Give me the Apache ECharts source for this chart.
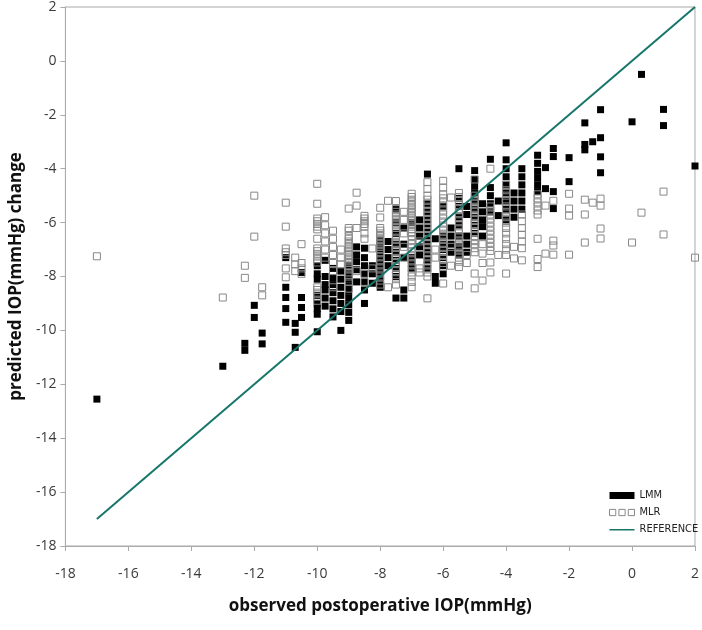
<!DOCTYPE html>
<html>
<head>
<meta charset="utf-8">
<script src="https://cdn.jsdelivr.net/npm/echarts@6/dist/echarts.min.js"></script>
<style>html,body{margin:0;padding:0;background:#fff;}#c{width:702px;height:630px;}</style>
</head>
<body>
<div id="c"></div>
<script>
// observed x -> list of predicted values, per column
const lmmCols = [
  [-17, [-12.55]],
  [-13, [-11.33]],
  [-12.3, [-10.48, -10.74]],
  [-12, [-9.07, -9.52]],
  [-11.75, [-10.1, -10.5]],
  [-11, [-7.3, -8.4, -8.78, -9.19, -9.7]],
  [-10.7, [-9.74, -10.07, -10.63]],
  [-10.5, [-7.85, -8.78, -9.15, -9.52]],
  [-10, [-7.6, -7.9, -8.1, -8.7, -9.0, -9.2, -9.4, -10.05]],
  [-9.75, [-7.4, -8.0, -8.3, -8.5, -8.8, -9.1]],
  [-9.5, [-7.7, -8.05, -8.3, -8.6, -8.9, -9.2, -9.5]],
  [-9.25, [-7.8, -8.1, -8.4, -8.7, -9.0, -9.3, -10.0]],
  [-9, [-7.6, -7.9, -8.1, -8.35, -8.55, -8.8, -9.05, -9.33, -9.63]],
  [-8.75, [-6.9, -7.2, -7.45, -7.75, -8.2]],
  [-8.5, [-6.95, -7.3, -7.6, -7.9, -8.2, -8.5, -9.0]],
  [-8.25, [-7.6, -7.9, -8.25]],
  [-8, [-6.65, -6.9, -7.15, -7.4, -7.65, -7.9, -8.15, -8.4]],
  [-7.75, [-6.7, -7.0, -7.3, -7.6]],
  [-7.5, [-5.5, -6.0, -6.4, -6.8, -7.1, -7.4, -7.7, -8.0, -8.8]],
  [-7.25, [-6.2, -6.8, -7.3, -8.5, -8.8]],
  [-7, [-6.0, -7.3, -7.5, -7.7]],
  [-6.75, [-5.9, -6.2, -6.5, -6.9, -7.2]],
  [-6.5, [-4.2, -5.3, -5.6, -5.9, -6.2, -6.5, -6.8, -7.1, -7.4, -7.7]],
  [-6.25, [-6.6, -8.0, -8.25]],
  [-6, [-5.4, -6.5, -6.8, -7.0, -7.3, -7.6, -7.9]],
  [-5.75, [-6.2, -6.5, -6.8, -7.1]],
  [-5.5, [-4.0, -5.1, -5.4, -5.8, -6.1, -6.5, -6.9, -7.2]],
  [-5.25, [-5.4, -5.7, -6.5, -6.8, -7.1]],
  [-5, [-4.07, -4.4, -4.65, -4.9, -5.2, -5.5, -5.8, -6.1, -6.4]],
  [-4.75, [-5.3, -5.6, -5.9, -6.15, -6.5]],
  [-4.5, [-3.65, -4.7, -5.0, -5.3, -5.6]],
  [-4.25, [-5.2, -5.74]],
  [-4, [-3.04, -3.67, -4.0, -4.3, -4.6, -4.9, -5.2, -5.5, -5.9]],
  [-3.75, [-4.9, -5.2, -5.5, -5.8]],
  [-3.5, [-4.0, -4.3, -4.6, -4.9, -5.2, -5.5]],
  [-3, [-3.5, -3.8, -4.1, -4.35, -4.6, -4.85]],
  [-2.75, [-3.96, -4.74]],
  [-2.5, [-3.25, -3.55, -4.85, -5.48]],
  [-2, [-3.59, -4.48]],
  [-1.5, [-2.3, -3.1, -3.3]],
  [-1.25, [-3.0]],
  [-1, [-1.81, -2.85, -3.56, -4.15]],
  [0, [-2.26]],
  [0.3, [-0.5]],
  [1, [-1.8, -2.4]],
  [2, [-3.9]]
];
const mlrCols = [
  [-17, [-7.25]],
  [-13, [-8.78]],
  [-12.3, [-7.6, -8.05]],
  [-12, [-5.0, -6.52]],
  [-11.75, [-8.4, -8.7]],
  [-11, [-5.26, -6.15, -6.96, -7.1, -7.2, -7.7, -8.03]],
  [-10.7, [-7.3, -7.55, -7.8]],
  [-10.5, [-6.8, -7.5, -7.7, -7.9]],
  [-10, [-4.56, -5.3, -5.85, -5.95, -6.05, -6.15, -6.25, -6.6, -6.96, -7.06, -7.16, -7.26, -7.36, -7.48, -8.4, -8.5, -8.6, -8.75, -8.9]],
  [-9.75, [-5.8, -6.1, -6.4, -6.7, -7.0, -7.3]],
  [-9.5, [-6.3, -6.6, -6.9, -7.2, -7.5, -7.8, -8.4]],
  [-9.25, [-7.0, -7.3, -7.55]],
  [-9, [-5.48, -6.2, -6.3, -6.5, -6.6, -6.7, -6.8, -6.9, -7.0, -7.1, -7.2, -7.3, -7.4, -7.5, -7.6, -7.7, -7.85, -8.0, -8.2, -8.45]],
  [-8.75, [-4.89, -5.37, -6.2, -7.8]],
  [-8.5, [-5.75, -5.85, -5.95, -6.05, -6.15, -6.4, -6.6, -7.9, -8.2]],
  [-8.25, [-6.96, -7.7]],
  [-8, [-5.45, -5.81, -6.2, -6.3, -6.4, -6.5, -6.6, -6.7, -6.8, -6.9, -7.0, -7.1, -7.25, -7.4, -7.55, -7.7, -7.85, -8.0, -8.15, -8.3]],
  [-7.75, [-5.19, -8.4]],
  [-7.5, [-5.2, -5.5, -5.6, -5.7, -5.8, -5.9, -6.0, -6.1, -6.2, -6.3, -6.45, -6.6, -6.75, -6.9, -7.05, -7.2, -7.35, -7.5, -7.65, -7.8, -7.95, -8.1, -8.3]],
  [-7.25, [-5.6, -5.9, -6.4, -6.9, -7.3]],
  [-7, [-4.93, -5.05, -5.15, -5.25, -5.35, -5.45, -5.55, -5.65, -5.75, -5.85, -5.95, -6.05, -6.15, -6.25, -6.35, -6.5, -6.65, -6.8, -6.95, -7.1, -7.25, -7.4, -7.55, -7.7, -7.85, -8.0, -8.2, -8.4]],
  [-6.75, [-6.7, -7.7, -7.85]],
  [-6.5, [-4.5, -4.75, -5.0, -5.15, -5.3, -5.45, -5.6, -5.75, -5.9, -6.05, -6.2, -6.35, -6.5, -6.65, -6.8, -6.95, -7.1, -7.25, -7.4, -7.55, -7.7, -7.85, -8.0, -8.81]],
  [-6.25, [-7.0, -7.3]],
  [-6, [-4.45, -4.7, -4.95, -5.1, -5.25, -5.4, -5.55, -5.7, -5.85, -6.0, -6.15, -6.3, -6.45, -6.6, -6.75, -6.9, -7.05, -7.2, -7.35, -7.5, -7.65, -8.26]],
  [-5.75, [-5.07, -6.9, -7.6]],
  [-5.5, [-4.9, -5.05, -5.2, -5.35, -5.5, -5.65, -5.8, -5.95, -6.1, -6.25, -6.4, -6.55, -6.7, -6.85, -7.0, -7.15, -7.3, -7.45, -7.65, -8.33]],
  [-5.25, [-7.2, -7.5]],
  [-5, [-4.4, -5.0, -5.15, -5.3, -5.45, -5.6, -5.75, -5.9, -6.05, -6.2, -6.35, -6.5, -6.65, -6.8, -6.95, -7.1, -7.89, -8.44]],
  [-4.75, [-6.8, -7.15, -7.5, -8.15]],
  [-4.5, [-4.0, -5.4, -5.55, -5.7, -5.85, -6.0, -6.15, -6.3, -6.45, -6.6, -6.75, -6.9, -7.05, -7.48, -7.85]],
  [-4.25, [-7.2]],
  [-4, [-4.6, -4.8, -5.0, -5.2, -5.4, -5.6, -5.8, -6.0, -6.2, -6.4, -6.6, -6.8, -7.0, -7.2, -7.89]],
  [-3.75, [-6.9, -7.33]],
  [-3.5, [-5.7, -5.95, -6.2, -6.45, -6.7, -6.95, -7.4]],
  [-3, [-4.95, -5.1, -5.25, -5.4, -5.55, -5.7, -6.6, -7.35, -7.65]],
  [-2.75, [-5.37, -7.15]],
  [-2.5, [-5.19, -6.67, -6.85, -7.19]],
  [-2, [-4.93, -5.48, -5.74, -7.19]],
  [-1.5, [-5.15, -5.7, -6.74]],
  [-1.25, [-5.26]],
  [-1, [-5.11, -5.37, -6.22, -6.59]],
  [0, [-6.74]],
  [0.3, [-5.63]],
  [1, [-4.85, -6.44]],
  [2, [-7.3]]
];
const referenceLine = [[-17, -17], [2, 2]];
const axisMin = -18, axisMax = 2, axisStep = 2;

function toPoints(cols) {
  const out = [];
  cols.forEach(function (c) { c[1].forEach(function (v) { out.push([c[0], v]); }); });
  return out;
}

const teal = '#17766a';
const chart = echarts.init(document.getElementById('c'), null, {renderer: 'canvas'});
const tickFont = {fontFamily: 'Open Sans', fontSize: 14, color: '#3a3a3a'};
const nameFont = {fontFamily: 'Open Sans', fontSize: 17, fontWeight: 'bold', color: '#111'};
chart.setOption({
  backgroundColor: '#fff',
  animation: false,
  grid: {left: 62, right: 4, top: 6, bottom: 84, show: true, borderColor: '#aaa', borderWidth: 1},
  xAxis: {
    type: 'value', min: axisMin, max: axisMax, interval: axisStep,
    name: 'observed postoperative IOP(mmHg)', nameLocation: 'middle', nameGap: 52,
    nameTextStyle: nameFont,
    axisLine: {show: true, onZero: false, lineStyle: {color: '#aaa'}},
    axisTick: {show: true, length: 5, lineStyle: {color: '#aaa'}},
    axisLabel: Object.assign({margin: 21}, tickFont),
    splitLine: {show: false}
  },
  yAxis: {
    type: 'value', min: axisMin, max: axisMax, interval: axisStep,
    name: 'predicted IOP(mmHg) change', nameLocation: 'middle', nameGap: 40, nameRotate: 90,
    nameTextStyle: nameFont,
    axisLine: {show: true, onZero: false, lineStyle: {color: '#aaa'}},
    axisTick: {show: true, length: 5, lineStyle: {color: '#aaa'}},
    axisLabel: Object.assign({margin: 9}, tickFont),
    splitLine: {show: false}
  },
  legend: {
    orient: 'vertical', left: 609, top: 489, itemWidth: 25, itemHeight: 7, itemGap: 4, padding: 0,
    textStyle: {fontFamily: "'DejaVu Sans Condensed', 'Liberation Sans Narrow', 'Roboto Condensed', 'Liberation Sans'", fontSize: 11, lineHeight: 13, color: '#222'},
    data: [
      {name: 'LMM', icon: 'rect', itemStyle: {color: '#000'}},
      {name: 'MLR', icon: 'path://M0,0H6V6H0Z M9,0H15V6H9Z M18,0H24V6H18Z',
       itemStyle: {color: 'rgba(0,0,0,0)', borderColor: '#888', borderWidth: 1}},
      {name: 'REFERENCE', icon: 'path://M0,0H0.1V0.01H0Z M0,3H26V4.6H0Z M0,7H0.1V7.01H0Z',
       itemStyle: {color: teal, borderWidth: 0}}
    ]
  },
  series: [
    {
      name: 'LMM', type: 'scatter', symbol: 'rect', symbolSize: 7, z: 2,
      itemStyle: {color: '#000', opacity: 1},
      data: toPoints(lmmCols)
    },
    {
      name: 'MLR', type: 'scatter', symbol: 'rect', symbolSize: 7, z: 3,
      itemStyle: {color: 'rgba(255,255,255,0)', borderColor: '#888', borderWidth: 1, opacity: 1},
      data: toPoints(mlrCols)
    },
    {
      name: 'REFERENCE', type: 'line', symbol: 'none', z: 4, color: teal,
      lineStyle: {color: teal, width: 2},
      itemStyle: {color: teal},
      data: referenceLine
    }
  ]
});
</script>
</body>
</html>
